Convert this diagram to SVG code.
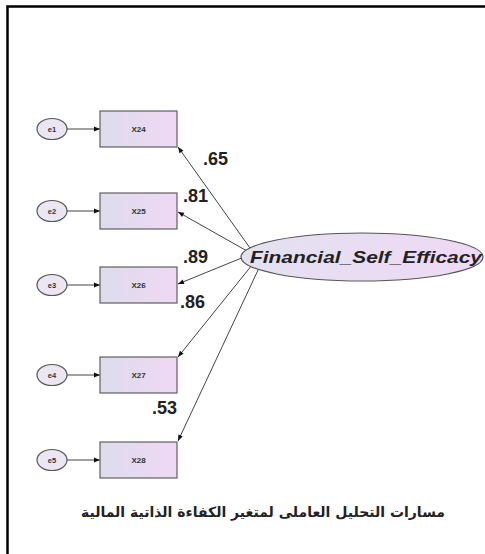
<svg xmlns="http://www.w3.org/2000/svg" width="485" height="554" viewBox="0 0 485 554">
<defs>
<linearGradient id="boxg" x1="0" y1="0" x2="1" y2="0">
<stop offset="0" stop-color="#dcdcec"/>
<stop offset="1" stop-color="#f0d8f4"/>
</linearGradient>
<linearGradient id="ellg" x1="0" y1="0" x2="1" y2="0">
<stop offset="0" stop-color="#e2e2f0"/>
<stop offset="1" stop-color="#f0d8f4"/>
</linearGradient>
<marker id="arr" viewBox="0 0 10 10" refX="10" refY="5" markerWidth="8" markerHeight="6" markerUnits="userSpaceOnUse" orient="auto">
<path d="M0,1 L10,5 L0,9 z" fill="#111"/>
</marker>
<style>
.box{fill:url(#boxg);stroke:#606060;stroke-width:1.2}
.err{fill:#ece6f2;stroke:#555;stroke-width:1.2}
.lbl{font-family:"Liberation Sans",Arial,sans-serif;font-size:8px;font-weight:bold;fill:#333;text-anchor:middle}
.elbl{font-family:"Liberation Sans",Arial,sans-serif;font-size:7.5px;font-weight:bold;fill:#333;text-anchor:middle}
.w{font-family:"Liberation Sans",Arial,sans-serif;font-size:18px;font-weight:bold;fill:#222}
.c{stroke:#444;stroke-width:1;fill:none;marker-end:url(#arr)}
</style>
</defs>
<rect width="485" height="554" fill="#fff"/>
<path d="M7.5,560 V6.5 H490" fill="none" stroke="#000" stroke-width="2.5"/>

<g id="connectors">
<line class="c" x1="67" y1="129" x2="100" y2="129"/>
<line class="c" x1="67" y1="211" x2="100" y2="211"/>
<line class="c" x1="67" y1="285" x2="100" y2="285"/>
<line class="c" x1="67" y1="375" x2="100" y2="375"/>
<line class="c" x1="67" y1="460" x2="100" y2="460"/>
<line class="c" x1="250" y1="248" x2="178" y2="147"/>
<line class="c" x1="247" y1="251" x2="178" y2="212"/>
<line class="c" x1="244" y1="257" x2="178" y2="284"/>
<line class="c" x1="252" y1="265" x2="178" y2="357"/>
<line class="c" x1="259" y1="268" x2="178" y2="441"/>
</g>

<g id="e1"><ellipse class="err" cx="52" cy="129" rx="15" ry="10.5"/><text class="elbl" x="52" y="131.5">e1</text></g>
<g id="e2"><ellipse class="err" cx="52" cy="211" rx="15" ry="10.5"/><text class="elbl" x="52" y="213.5">e2</text></g>
<g id="e3"><ellipse class="err" cx="52" cy="285" rx="15" ry="10.5"/><text class="elbl" x="52" y="287.5">e3</text></g>
<g id="e4"><ellipse class="err" cx="52" cy="375" rx="15" ry="10.5"/><text class="elbl" x="52" y="377.5">e4</text></g>
<g id="e5"><ellipse class="err" cx="52" cy="460" rx="15" ry="10.5"/><text class="elbl" x="52" y="462.5">e5</text></g>

<g id="X24"><rect class="box" x="100" y="111" width="77" height="36"/><text class="lbl" x="138.5" y="132">X24</text></g>
<g id="X25"><rect class="box" x="100" y="193" width="77" height="36"/><text class="lbl" x="138.5" y="214">X25</text></g>
<g id="X26"><rect class="box" x="100" y="267" width="77" height="36"/><text class="lbl" x="138.5" y="288">X26</text></g>
<g id="X27"><rect class="box" x="100" y="357" width="77" height="36"/><text class="lbl" x="138.5" y="378">X27</text></g>
<g id="X28"><rect class="box" x="100" y="442" width="77" height="36"/><text class="lbl" x="138.5" y="463">X28</text></g>

<g id="Financial_Self_Efficacy">
<ellipse cx="362" cy="257" rx="121" ry="24" fill="url(#ellg)" stroke="#555" stroke-width="1.2"/>
<text x="366" y="263" text-anchor="middle" textLength="232" lengthAdjust="spacingAndGlyphs" font-family="'Liberation Sans',Arial,sans-serif" font-size="16.5" font-weight="bold" font-style="italic" fill="#222">Financial_Self_Efficacy</text>
</g>

<g id="weights">
<text class="w" x="203" y="165">.65</text>
<text class="w" x="183" y="202">.81</text>
<text class="w" x="183" y="263">.89</text>
<text class="w" x="180" y="308">.86</text>
<text class="w" x="152" y="414">.53</text>
</g>

<text x="263" y="517" text-anchor="middle" direction="rtl" font-family="'DejaVu Sans','Noto Sans',sans-serif" font-size="14" font-weight="bold" fill="#222">مسارات التحليل العاملى لمتغير الكفاءة الذاتية المالية</text>
</svg>
